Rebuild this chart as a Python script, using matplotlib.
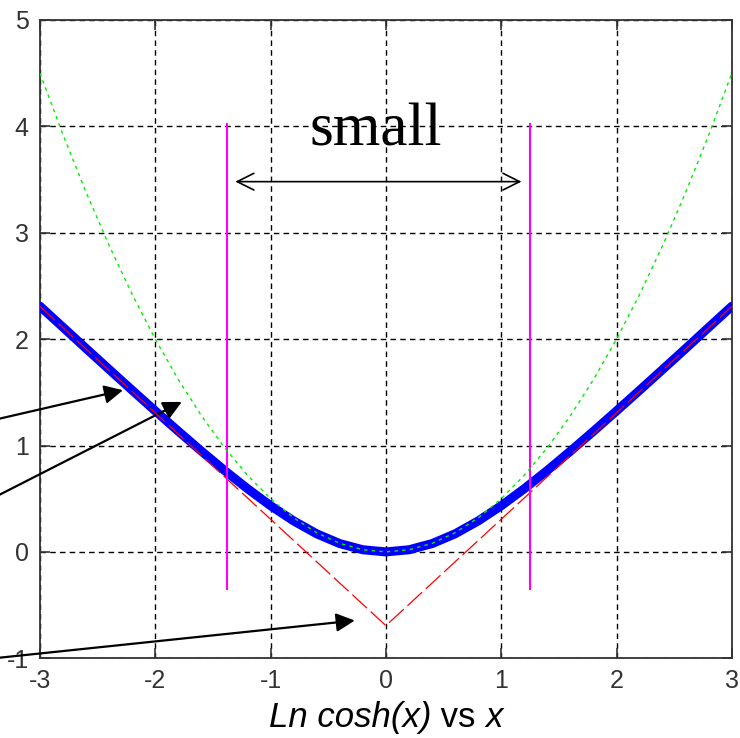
import numpy as np
import matplotlib.pyplot as plt
from matplotlib.offsetbox import TextArea, HPacker, AnchoredOffsetbox

# sampled curves, x from -3 to 3 in steps of 0.2
x = np.linspace(-3, 3, 31)
ln_cosh = [2.309, 2.111, 1.912, 1.715, 1.519, 1.325, 1.134, 0.947, 0.766, 0.594, 0.434,
           0.291, 0.170, 0.078, 0.020, 0.000, 0.020, 0.078, 0.170, 0.291, 0.434, 0.594,
           0.766, 0.947, 1.134, 1.325, 1.519, 1.715, 1.912, 2.111, 2.309]
half_sq = [4.50, 3.92, 3.38, 2.88, 2.42, 2.00, 1.62, 1.28, 0.98, 0.72, 0.50, 0.32, 0.18,
           0.08, 0.02, 0.00, 0.02, 0.08, 0.18, 0.32, 0.50, 0.72, 0.98, 1.28, 1.62, 2.00,
           2.42, 2.88, 3.38, 3.92, 4.50]
abs_shift = [2.307, 2.107, 1.907, 1.707, 1.507, 1.307, 1.107, 0.907, 0.707, 0.507, 0.307,
             0.107, -0.093, -0.293, -0.493, -0.693, -0.493, -0.293, -0.093, 0.107, 0.307,
             0.507, 0.707, 0.907, 1.107, 1.307, 1.507, 1.707, 1.907, 2.107, 2.307]

# region markers
bounds = [-1.38, 1.25]
bound_lo, bound_hi = -0.35, 4.02
span_y = 3.48

plt.rcParams['axes.unicode_minus'] = False

fig = plt.figure(figsize=(7.4, 7.38), dpi=100)
ax = fig.add_axes([0.054, 0.108, 0.935, 0.865])

ax.plot(x, ln_cosh, color='#0000ff', lw=6.5, solid_capstyle='round', zorder=3)
ax.plot(x, abs_shift, color='#ff0000', lw=0.9, dashes=(16, 4), zorder=4)
ax.plot(x, half_sq, color='#00ee00', lw=1.0, dashes=(2.5, 3), zorder=5)

for b in bounds:
    ax.plot([b, b], [bound_lo, bound_hi], color='#ff00ff', lw=1.5, zorder=4)

ax.annotate('', xy=(bounds[1] - 0.05, span_y), xytext=(bounds[0] + 0.05, span_y),
            arrowprops=dict(arrowstyle='<->', color='black', lw=1.2, mutation_scale=30))
ax.text(-0.09, 3.82, 'small', family='Liberation Serif', fontsize=44,
        ha='center', va='baseline', zorder=6)

# pointers from outside the left edge
tips = [(-2.28, 1.52), (-1.77, 1.41), (-0.27, -0.645)]
tails = [(-3.4, 1.24), (-3.4, 0.51), (-3.4, -1.0)]
for tip, tail in zip(tips, tails):
    ax.annotate('', xy=tip, xytext=tail, annotation_clip=False,
                arrowprops=dict(arrowstyle='-|>', color='black', lw=1.6,
                                mutation_scale=28, shrinkA=0, shrinkB=0))

ax.set_xlim(-3, 3)
ax.set_ylim(-1, 5)
ax.set_xticks(range(-3, 4))
ax.set_yticks(range(-1, 6))
ax.grid(True, color='black', lw=1.0, linestyle=(0, (4, 3)))
ax.tick_params(direction='in', length=7, width=1.2, top=True, right=True,
               colors='#333333', labelsize=18, pad=8)
for lab in ax.get_xticklabels() + ax.get_yticklabels():
    lab.set_family('Liberation Sans')
for s in ax.spines.values():
    s.set_color('#333333')
    s.set_linewidth(1.3)

# x label with mixed italic / roman parts
parts = [('Ln cosh(x)', 'italic'), (' vs ', 'normal'), ('x', 'italic')]
areas = [TextArea(t, textprops=dict(family='Liberation Sans', style=st, fontsize=25))
         for t, st in parts]
label = AnchoredOffsetbox(loc='upper center', child=HPacker(children=areas, pad=0, sep=0),
                          bbox_to_anchor=(0.5, -0.067), bbox_transform=ax.transAxes,
                          frameon=False, pad=0, borderpad=0)
ax.add_artist(label)

fig.savefig('out.png', dpi=100)
